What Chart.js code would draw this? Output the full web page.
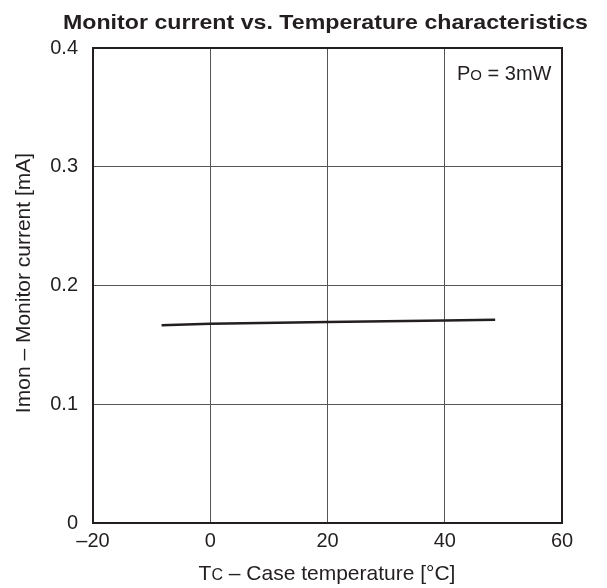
<!DOCTYPE html>
<html>
<head>
<meta charset="utf-8">
<script src="https://cdn.jsdelivr.net/npm/chart.js@4"></script>
<style>
  body { margin: 0; background: #fff; }
  canvas { display: block; }
</style>
</head>
<body>
<canvas id="kennlinie" width="607" height="588"></canvas>
<script>
// Werte
const temperatur = [-8.3, 0, 20, 40, 48.6];
const monitorStrom = [0.1665, 0.1678, 0.1692, 0.1706, 0.1712];
const xTicks = [-20, 0, 20, 40, 60];
const yTicks = [0, 0.1, 0.2, 0.3, 0.4];

const schrift = "Liberation Sans, Arial, sans-serif";
const textFarbe = "#231f20";

// Rahmen, Titel und Achsenbeschriftungen
const rahmen = {
    id: "rahmen",
    afterDatasetsDraw(chart) {
        const { ctx, chartArea: a } = chart;
        ctx.save();
        ctx.strokeStyle = "#231f20";
        ctx.lineWidth = 2;
        ctx.strokeRect(a.left, a.top, a.right - a.left, a.bottom - a.top);

        ctx.fillStyle = textFarbe;
        ctx.textBaseline = "alphabetic";

        // Titel, etwas breit gezogen wie im Original
        ctx.save();
        ctx.font = "bold 21px " + schrift;
        const titel = "Monitor current vs. Temperature characteristics";
        const sx = 525 / ctx.measureText(titel).width;
        ctx.translate(63, 29);
        ctx.scale(sx, 1);
        ctx.textAlign = "left";
        ctx.fillText(titel, 0, 0);
        ctx.restore();

        // Po = 3mW
        ctx.textAlign = "left";
        const po = [["P", 20], ["O", 15], [" = 3mW", 20]];
        let x = 457;
        po.forEach(([t, g]) => {
            ctx.font = g + "px " + schrift;
            ctx.fillText(t, x, 80);
            x += ctx.measureText(t).width;
        });

        // x-Achse
        const teile = [["T", 21], ["C", 16], [" – Case temperature [°C]", 21]];
        let breite = 0;
        teile.forEach(([t, g]) => { ctx.font = g + "px " + schrift; breite += ctx.measureText(t).width; });
        x = 327 - breite / 2;
        teile.forEach(([t, g]) => {
            ctx.font = g + "px " + schrift;
            ctx.fillText(t, x, 580);
            x += ctx.measureText(t).width;
        });

        // y-Achse
        ctx.save();
        ctx.translate(30, 283);
        ctx.rotate(-Math.PI / 2);
        ctx.textAlign = "center";
        ctx.font = "21px " + schrift;
        ctx.fillText("Imon – Monitor current [mA]", 0, 0);
        ctx.restore();

        ctx.restore();
    },
};

new Chart(document.getElementById("kennlinie"), {
    type: "scatter",
    data: {
        datasets: [
            {
                data: temperatur.map((t, i) => ({ x: t, y: monitorStrom[i] })),
                showLine: true,
                borderColor: "#231f20",
                borderWidth: 2.5,
                pointRadius: 0,
            },
        ],
    },
    options: {
        responsive: false,
        animation: false,
        layout: { padding: { top: 48, right: 45, left: 0, bottom: 0 } },
        plugins: {
            legend: { display: false },
            tooltip: { enabled: false },
        },
        scales: {
            x: {
                type: "linear",
                min: -20,
                max: 60,
                afterBuildTicks: (s) => { s.ticks = xTicks.map((v) => ({ value: v })); },
                afterFit: (s) => { s.height = 65; },
                ticks: {
                    color: textFarbe,
                    font: { family: schrift, size: 20 },
                    padding: 6,
                    callback: (v) => String(v).replace("-", "–"),
                },
                grid: { color: "#555", lineWidth: 1, drawTicks: false },
                border: { display: false },
            },
            y: {
                min: 0,
                max: 0.4,
                afterBuildTicks: (s) => { s.ticks = yTicks.map((v) => ({ value: v })); },
                afterFit: (s) => { s.width = 93; },
                ticks: {
                    color: textFarbe,
                    font: { family: schrift, size: 20 },
                    padding: 15,
                    callback: (v) => (v === 0 ? "0" : v.toFixed(1)),
                },
                grid: { color: "#555", lineWidth: 1, drawTicks: false },
                border: { display: false },
            },
        },
    },
    plugins: [rahmen],
});
</script>
</body>
</html>
